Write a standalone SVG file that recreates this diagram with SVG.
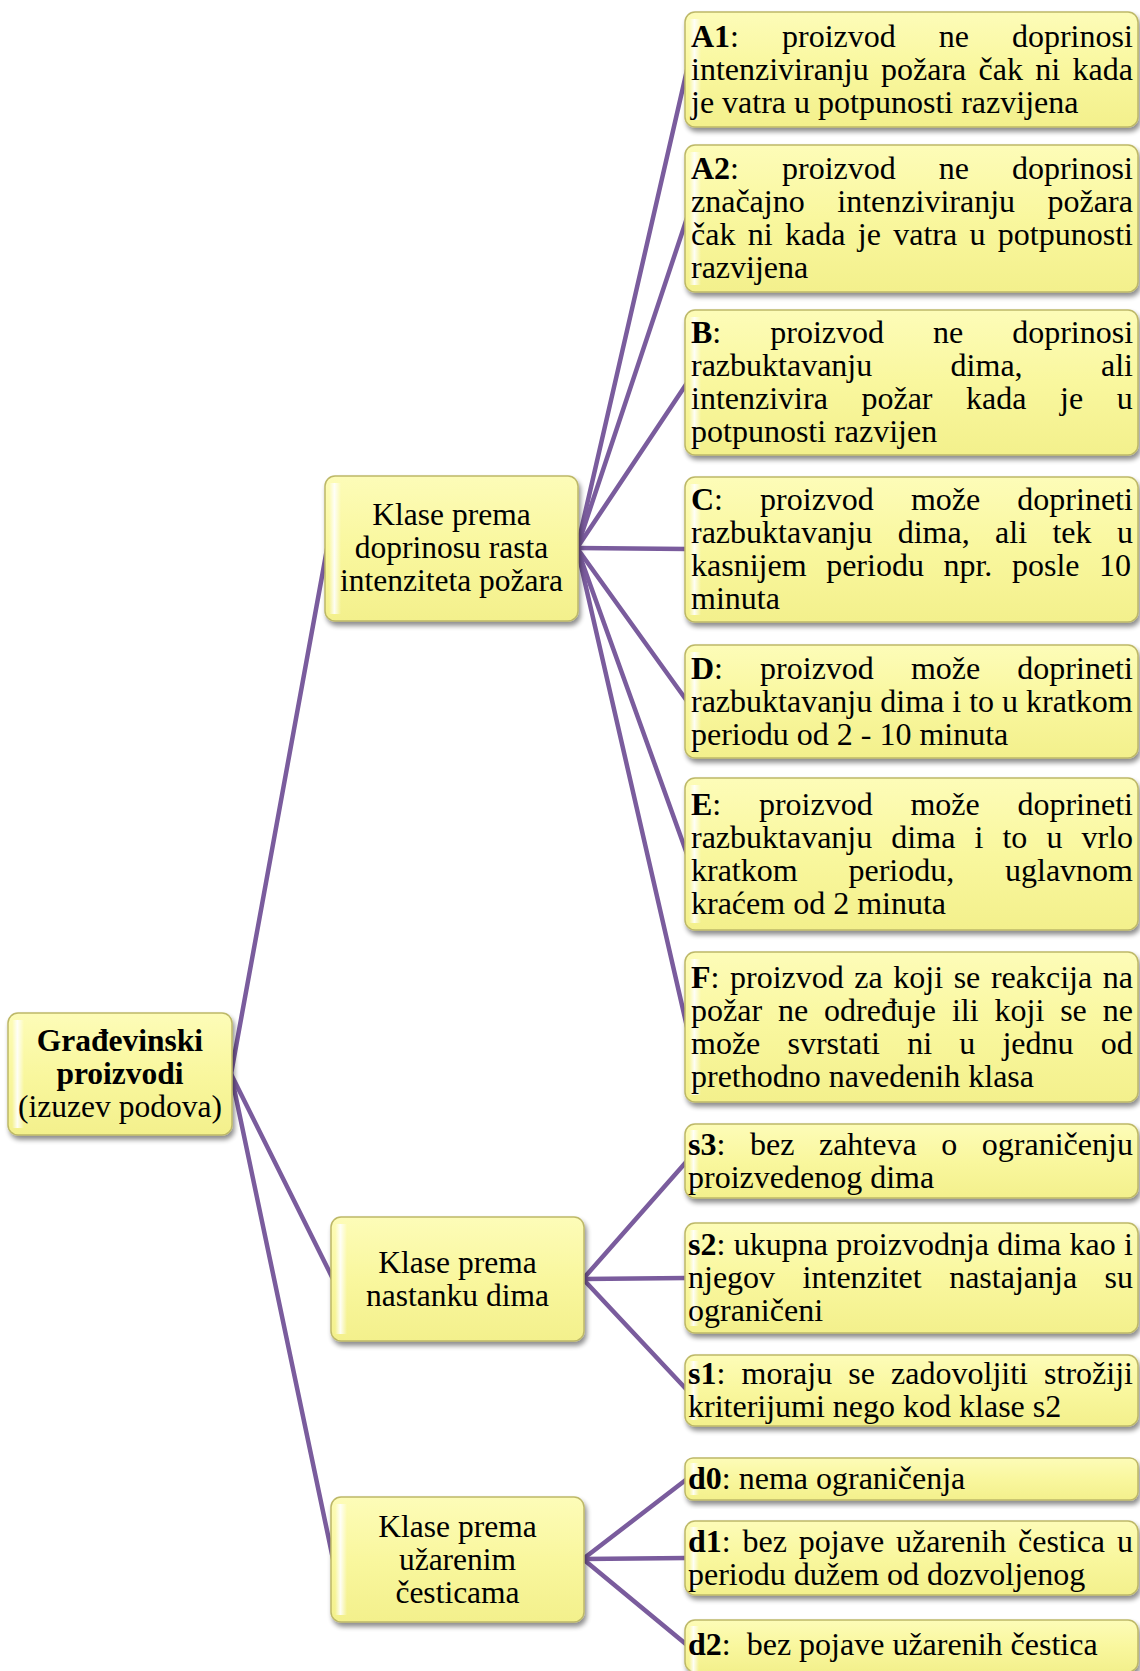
<svg xmlns="http://www.w3.org/2000/svg" width="1140" height="1671" viewBox="0 0 1140 1671">
<defs>
<linearGradient id="fillG" x1="0" y1="0" x2="0" y2="1">
<stop offset="0" stop-color="#FDFCB8"/>
<stop offset="0.5" stop-color="#F9F79E"/>
<stop offset="1" stop-color="#F3F08C"/>
</linearGradient>
<linearGradient id="hlG" x1="0" y1="0" x2="1" y2="0">
<stop offset="0" stop-color="#FFFFFF" stop-opacity="0"/>
<stop offset="0.45" stop-color="#FFFFFF" stop-opacity="0.9"/>
<stop offset="1" stop-color="#FFFFFF" stop-opacity="0"/>
</linearGradient>
<filter id="sh" x="-10%" y="-10%" width="125%" height="130%">
<feGaussianBlur in="SourceAlpha" stdDeviation="2.5"/>
<feOffset dx="2" dy="4" result="o"/>
<feComponentTransfer><feFuncA type="linear" slope="0.45"/></feComponentTransfer>
<feMerge><feMergeNode/><feMergeNode in="SourceGraphic"/></feMerge>
</filter>
</defs>
<style>
.box{fill:url(#fillG);stroke:#BDB868;stroke-width:1.5;filter:url(#sh)}
.hl{fill:url(#hlG)}
.t{font-family:"Liberation Serif","Times New Roman",serif;font-size:32px;fill:#000}
.m{font-family:"Liberation Serif","Times New Roman",serif;font-size:31.5px;fill:#000;text-anchor:middle}
.b{font-weight:bold}
.c{fill:none;stroke:#7A5C9D;stroke-width:4.5;stroke-linecap:round}
</style>
<rect width="1140" height="1671" fill="#FFFFFF"/>
<g id="connectors">
<line class="c" x1="231" y1="1074" x2="327" y2="549"/>
<line class="c" x1="231" y1="1074" x2="333" y2="1279"/>
<line class="c" x1="231" y1="1074" x2="333" y2="1559"/>
<line class="c" x1="577" y1="548" x2="687" y2="70"/>
<line class="c" x1="577" y1="548" x2="687" y2="218"/>
<line class="c" x1="577" y1="548" x2="687" y2="383"/>
<line class="c" x1="577" y1="548" x2="687" y2="549"/>
<line class="c" x1="577" y1="548" x2="687" y2="701"/>
<line class="c" x1="577" y1="548" x2="687" y2="854"/>
<line class="c" x1="577" y1="548" x2="687" y2="1027"/>
<line class="c" x1="583" y1="1279" x2="687" y2="1161"/>
<line class="c" x1="583" y1="1279" x2="687" y2="1278"/>
<line class="c" x1="583" y1="1279" x2="687" y2="1390"/>
<line class="c" x1="583" y1="1559" x2="687" y2="1479"/>
<line class="c" x1="583" y1="1559" x2="687" y2="1558"/>
<line class="c" x1="583" y1="1559" x2="687" y2="1645"/>
</g>
<g id="root">
<rect class="box" x="8" y="1013" width="224" height="122" rx="10"/>
<rect class="hl" x="12" y="1020" width="12" height="108"/>
<text class="m" x="120" y="1051"><tspan class="b">Građevinski</tspan></text>
<text class="m" x="120" y="1084"><tspan class="b">proizvodi</tspan></text>
<text class="m" x="120" y="1117">(izuzev podova)</text>
</g>
<g id="n-doprinos">
<rect class="box" x="325" y="476" width="253" height="145" rx="10"/>
<rect class="hl" x="329" y="483" width="12" height="131"/>
<text class="m" x="451.5" y="525">Klase prema</text>
<text class="m" x="451.5" y="558">doprinosu rasta</text>
<text class="m" x="451.5" y="591">intenziteta požara</text>
</g>
<g id="n-dim">
<rect class="box" x="331" y="1217" width="253" height="124" rx="10"/>
<rect class="hl" x="335" y="1224" width="12" height="110"/>
<text class="m" x="457.5" y="1272.5">Klase prema</text>
<text class="m" x="457.5" y="1305.5">nastanku dima</text>
</g>
<g id="n-cestice">
<rect class="box" x="331" y="1497" width="253" height="125" rx="10"/>
<rect class="hl" x="335" y="1504" width="12" height="111"/>
<text class="m" x="457.5" y="1536.5">Klase prema</text>
<text class="m" x="457.5" y="1569.5">užarenim</text>
<text class="m" x="457.5" y="1602.5">česticama</text>
</g>
<g id="A1">
<rect class="box" x="685" y="12" width="453" height="115" rx="10"/>
<rect class="hl" x="689" y="19" width="12" height="101"/>
<text class="t" x="691" y="47" style="word-spacing:35px"><tspan class="b">A1</tspan>: proizvod ne doprinosi</text>
<text class="t" x="691" y="80" style="word-spacing:4.3px">intenziviranju požara čak ni kada</text>
<text class="t" x="691" y="113">je vatra u potpunosti razvijena</text>
</g>
<g id="A2">
<rect class="box" x="685" y="145" width="453" height="147" rx="10"/>
<rect class="hl" x="689" y="152" width="12" height="133"/>
<text class="t" x="691" y="179" style="word-spacing:35px"><tspan class="b">A2</tspan>: proizvod ne doprinosi</text>
<text class="t" x="691" y="212" style="word-spacing:24.6px">značajno intenziviranju požara</text>
<text class="t" x="691" y="245" style="word-spacing:4.35px">čak ni kada je vatra u potpunosti</text>
<text class="t" x="691" y="278">razvijena</text>
</g>
<g id="B">
<rect class="box" x="685" y="310" width="453" height="145" rx="10"/>
<rect class="hl" x="689" y="317" width="12" height="131"/>
<text class="t" x="691" y="343" style="word-spacing:41px"><tspan class="b">B</tspan>: proizvod ne doprinosi</text>
<text class="t" x="691" y="376" style="word-spacing:70.35px">razbuktavanju dima, ali</text>
<text class="t" x="691" y="409" style="word-spacing:25.6px">intenzivira požar kada je u</text>
<text class="t" x="691" y="442">potpunosti razvijen</text>
</g>
<g id="C">
<rect class="box" x="685" y="477" width="453" height="145" rx="10"/>
<rect class="hl" x="689" y="484" width="12" height="131"/>
<text class="t" x="691" y="510" style="word-spacing:29.1px"><tspan class="b">C</tspan>: proizvod može doprineti</text>
<text class="t" x="691" y="543" style="word-spacing:17.4px">razbuktavanju dima, ali tek u</text>
<text class="t" x="691" y="576" style="word-spacing:11.6px">kasnijem periodu npr. posle 10</text>
<text class="t" x="691" y="609">minuta</text>
</g>
<g id="D">
<rect class="box" x="685" y="645" width="453" height="113" rx="10"/>
<rect class="hl" x="689" y="652" width="12" height="99"/>
<text class="t" x="691" y="678.5" style="word-spacing:29.1px"><tspan class="b">D</tspan>: proizvod može doprineti</text>
<text class="t" x="691" y="711.5">razbuktavanju dima i to u kratkom</text>
<text class="t" x="691" y="744.5">periodu od 2 - 10 minuta</text>
</g>
<g id="E">
<rect class="box" x="685" y="778" width="453" height="152" rx="10"/>
<rect class="hl" x="689" y="785" width="12" height="138"/>
<text class="t" x="691" y="814.5" style="word-spacing:29.7px"><tspan class="b">E</tspan>: proizvod može doprineti</text>
<text class="t" x="691" y="847.5" style="word-spacing:11.1px">razbuktavanju dima i to u vrlo</text>
<text class="t" x="691" y="880.5" style="word-spacing:42.8px">kratkom periodu, uglavnom</text>
<text class="t" x="691" y="913.5">kraćem od 2 minuta</text>
</g>
<g id="F">
<rect class="box" x="685" y="952" width="453" height="150" rx="10"/>
<rect class="hl" x="689" y="959" width="12" height="136"/>
<text class="t" x="691" y="987.5" style="word-spacing:2.57px"><tspan class="b">F</tspan>: proizvod za koji se reakcija na</text>
<text class="t" x="691" y="1020.5" style="word-spacing:7.9px">požar ne određuje ili koji se ne</text>
<text class="t" x="691" y="1053.5" style="word-spacing:19.2px">može svrstati ni u jednu od</text>
<text class="t" x="691" y="1086.5">prethodno navedenih klasa</text>
</g>
<g id="s3">
<rect class="box" x="685" y="1124" width="453" height="74" rx="10"/>
<rect class="hl" x="689" y="1130" width="10" height="62"/>
<text class="t" x="688" y="1154.5" style="word-spacing:16.6px"><tspan class="b">s3</tspan>: bez zahteva o ograničenju</text>
<text class="t" x="688" y="1187.5">proizvedenog dima</text>
</g>
<g id="s2">
<rect class="box" x="685" y="1223" width="453" height="110" rx="10"/>
<rect class="hl" x="689" y="1230" width="10" height="96"/>
<text class="t" x="688" y="1255" style="word-spacing:0.3px"><tspan class="b">s2</tspan>: ukupna proizvodnja dima kao i</text>
<text class="t" x="688" y="1288" style="word-spacing:19.5px">njegov intenzitet nastajanja su</text>
<text class="t" x="688" y="1321">ograničeni</text>
</g>
<g id="s1">
<rect class="box" x="685" y="1355" width="453" height="71" rx="10"/>
<rect class="hl" x="689" y="1361" width="10" height="59"/>
<text class="t" x="688" y="1384" style="word-spacing:8.15px"><tspan class="b">s1</tspan>: moraju se zadovoljiti strožiji</text>
<text class="t" x="688" y="1417">kriterijumi nego kod klase s2</text>
</g>
<g id="d0">
<rect class="box" x="685" y="1458" width="453" height="42" rx="8"/>
<rect class="hl" x="689" y="1463" width="10" height="32"/>
<text class="t" x="688" y="1489"><tspan class="b">d0</tspan>: nema ograničenja</text>
</g>
<g id="d1">
<rect class="box" x="685" y="1521" width="453" height="74" rx="10"/>
<rect class="hl" x="689" y="1527" width="10" height="62"/>
<text class="t" x="688" y="1551.5" style="word-spacing:3.86px"><tspan class="b">d1</tspan>: bez pojave užarenih čestica u</text>
<text class="t" x="688" y="1584.5">periodu dužem od dozvoljenog</text>
</g>
<g id="d2">
<rect class="box" x="685" y="1620" width="453" height="52" rx="10"/>
<rect class="hl" x="689" y="1626" width="10" height="45"/>
<text class="t" x="688" y="1655"><tspan class="b">d2</tspan>: <tspan dx="8">bez pojave užarenih čestica</tspan></text>
</g>
</svg>
